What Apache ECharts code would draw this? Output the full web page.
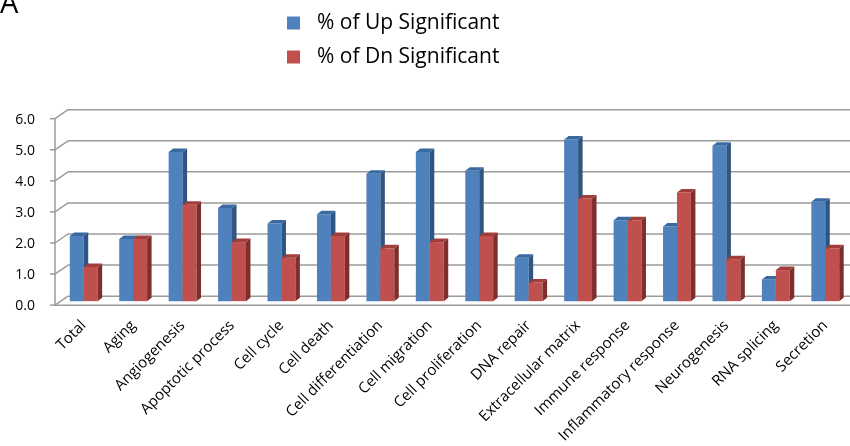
<!DOCTYPE html>
<html>
<head>
<meta charset="utf-8">
<script src="https://cdn.jsdelivr.net/npm/echarts@6/dist/echarts.min.js"></script>
<style>html,body{margin:0;padding:0;background:#fff}#c{width:850px;height:446px}</style>
</head>
<body>
<div id="c"></div>
<script>
const categories = ['Total','Aging','Angiogenesis','Apoptotic process','Cell cycle','Cell death','Cell differentiation','Cell migration','Cell proliferation','DNA repair','Extracellular matrix','Immune response','Inflammatory response','Neurogenesis','RNA splicing','Secretion'];
const upValues = [2.1, 2.0, 4.8, 3.0, 2.5, 2.8, 4.1, 4.8, 4.2, 1.4, 5.2, 2.6, 2.4, 5.0, 0.7, 3.2];
const dnValues = [1.1, 2.0, 3.1, 1.9, 1.4, 2.1, 1.7, 1.9, 2.1, 0.6, 3.3, 2.6, 3.5, 1.35, 1.0, 1.7];
const yTicks = [0, 1, 2, 3, 4, 5, 6];
const seriesNames = ['% of Up Significant', '% of Dn Significant'];

const FONT = 'Open Sans';
const FRONT = [-4, 4], BACK = [9, -5];
const DEPTH = [4.5, -3.5];
const GRID_COLOR = '#9b9b9b';

const chart = echarts.init(document.getElementById('c'), null, {renderer: 'canvas'});

function wallsRender(params, api) {
  const cs = params.coordSys;
  const v = api.value(1);
  const y = api.coord([0, v])[1];
  const L = cs.x;
  const R = cs.x + cs.width + 20;
  const ls = {stroke: GRID_COLOR, lineWidth: 1.5};
  const ch = [
    {type: 'line', shape: {x1: L + BACK[0], y1: y + BACK[1], x2: R, y2: y + BACK[1]}, style: ls},
    {type: 'line', shape: {x1: L + FRONT[0], y1: y + FRONT[1], x2: L + BACK[0], y2: y + BACK[1]}, style: ls},
    {type: 'line', shape: {x1: L + FRONT[0] - 5, y1: y + FRONT[1], x2: L + FRONT[0], y2: y + FRONT[1]}, style: ls}
  ];
  if (v === yTicks[0]) {
    const yTop = api.coord([0, yTicks[yTicks.length - 1]])[1];
    ch.push({type: 'line', shape: {x1: L + FRONT[0], y1: y + FRONT[1], x2: R, y2: y + FRONT[1]}, style: ls});
    ch.push({type: 'line', shape: {x1: L + FRONT[0], y1: yTop + FRONT[1], x2: L + FRONT[0], y2: y + FRONT[1]}, style: ls});
  }
  return {type: 'group', children: ch};
}

function barRender(side, colors) {
  return function (params, api) {
    const i = api.value(0);
    const top = api.coord([i, api.value(1)]);
    const base = api.coord([i, 0]);
    const bw = api.size([1, 0])[0] * 0.282;
    const x0 = side === 0 ? top[0] - bw : top[0];
    const x1 = x0 + bw;
    const yt = top[1], yb = base[1];
    const dx = DEPTH[0], dy = DEPTH[1];
    return {
      type: 'group',
      children: [
        {type: 'rect', shape: {x: x0, y: yt, width: bw, height: yb - yt}, style: {fill: colors[0]}},
        {type: 'polygon', shape: {points: [[x1, yt], [x1 + dx, yt + dy], [x1 + dx, yb + dy], [x1, yb]]}, style: {fill: colors[1]}},
        {type: 'polygon', shape: {points: [[x0, yt], [x1, yt], [x1 + dx, yt + dy], [x0 + dx, yt + dy]]}, style: {fill: colors[2]}}
      ]
    };
  };
}

const upColors = ['#4F81BD', '#2F5582', '#3A68A0'];
const dnColors = ['#C0504D', '#7E2F2D', '#A03E3B'];

chart.setOption({
  animation: false,
  backgroundColor: '#fff',
  textStyle: {fontFamily: FONT},
  graphic: [{type: 'text', left: 0, top: -10, style: {text: 'A', font: '29px ' + FONT, fill: '#000'}}],
  legend: {
    orient: 'vertical', left: 282, top: 6,
    itemWidth: 13, itemHeight: 13, itemGap: 10,
    icon: 'rect',
    textStyle: {fontSize: 21, lineHeight: 24, color: '#000', fontFamily: FONT, padding: [0, 0, 0, 12]},
    data: seriesNames
  },
  grid: {left: 59, width: 794, top: 114.7, height: 187},
  xAxis: {
    type: 'category', data: categories,
    axisLine: {show: false}, axisTick: {show: false}, splitLine: {show: false},
    axisLabel: {rotate: 45, interval: 0, fontSize: 15, color: '#000', fontFamily: FONT, margin: 22}
  },
  yAxis: {
    type: 'value', min: 0, max: 6, interval: 1,
    axisLine: {show: false}, axisTick: {show: false}, splitLine: {show: false},
    axisLabel: {fontSize: 14, color: '#000', fontFamily: FONT, margin: 24, verticalAlign: 'top', lineHeight: 10, formatter: v => v.toFixed(1)}
  },
  series: [
    {type: 'custom', name: 'walls', silent: true, z: 1, clip: false, renderItem: wallsRender, encode: {x: 0, y: 1}, data: yTicks.map(v => [0, v])},
    {type: 'custom', name: seriesNames[0], z: 2, clip: false, itemStyle: {color: upColors[0]}, renderItem: barRender(0, upColors), encode: {x: 0, y: 1}, data: upValues.map((v, i) => [i, v])},
    {type: 'custom', name: seriesNames[1], z: 3, clip: false, itemStyle: {color: dnColors[0]}, renderItem: barRender(1, dnColors), encode: {x: 0, y: 1}, data: dnValues.map((v, i) => [i, v])}
  ]
});
</script>
</body>
</html>
